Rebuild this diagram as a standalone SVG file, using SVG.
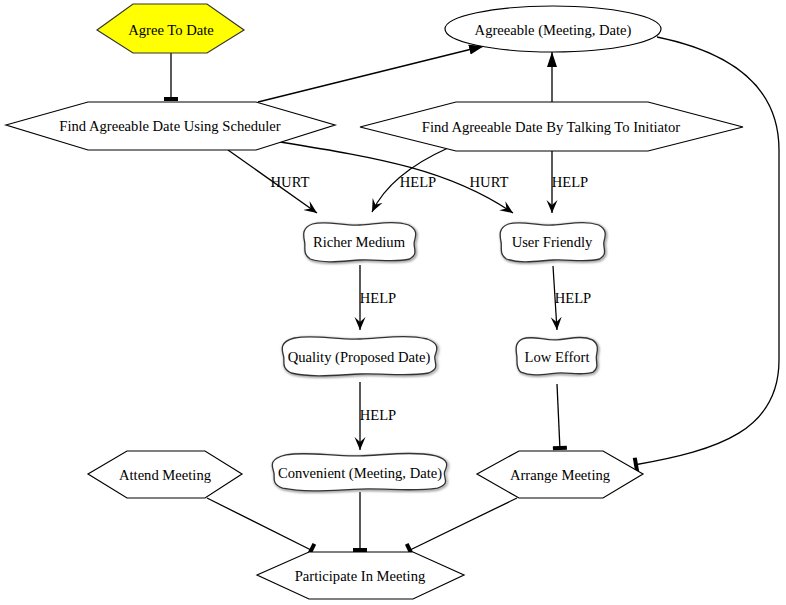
<svg xmlns="http://www.w3.org/2000/svg" width="786" height="605" viewBox="0 0 786 605">
  <style>
    text { font-family: "Liberation Serif", "Times New Roman", serif; font-size: 14.6px; fill: #000; text-anchor: middle; }
    .task { fill: #fff; stroke: #000; stroke-width: 1.2; }
    .goal { fill: #fff; stroke: #000; stroke-width: 1.2; }
    .soft { fill: #fff; stroke: #333; stroke-width: 1.3; }
    .softShadow { fill: none; stroke: #999; stroke-width: 2.5; filter: url(#blur); }
    .edge { fill: none; stroke: #000; stroke-width: 1.3; }
    .contrib { marker-end: url(#vee); }
    .means { marker-end: url(#tri); }
    .decomp { marker-end: url(#tee); }
  </style>
  <defs>
    <filter id="blur" x="-10%" y="-20%" width="120%" height="140%">
      <feGaussianBlur stdDeviation="1"/>
    </filter>
    <!-- unit softgoal cloud, 100 x 40, centred on the origin -->
    <path id="cloud" d="M -42,-18 C -30,-22 -15,-16 0,-17 C 15,-18 30,-22 43,-17 C 52,-12 49,-5 48,0 C 47,6 52,12 44,17 C 30,21 15,17 0,18 C -15,19 -30,22 -44,17 C -51,12 -48,5 -49,0 C -50,-6 -52,-14 -42,-18 Z" vector-effect="non-scaling-stroke"/>
    <marker id="vee" markerWidth="15" markerHeight="14" refX="13" refY="7" orient="auto" markerUnits="userSpaceOnUse">
      <path d="M0,1.5 L13,7 L0,12.5 L5,7 Z" fill="#000"/>
    </marker>
    <marker id="tri" markerWidth="16" markerHeight="12" refX="15" refY="6" orient="auto" markerUnits="userSpaceOnUse">
      <path d="M0,1 L15,6 L0,11 Z" fill="#000"/>
    </marker>
    <marker id="tee" markerWidth="8" markerHeight="16" refX="5" refY="8" orient="auto" markerUnits="userSpaceOnUse">
      <rect x="1" y="1" width="4" height="14" fill="#000"/>
    </marker>
  </defs>

  <g id="connectors">
    <path class="edge decomp" d="M171,53 L171,101"/>
    <path class="edge means" d="M258,102 L484,46"/>
    <path class="edge means" d="M552,102 L552,52"/>
    <path class="edge" d="M657,37 C730,52 779,85 779,150 L779,360 C779,430 720,450 634,465" marker-end="url(#tee)"/>
    <path class="edge contrib" d="M228,150 L317,213"/>
    <path class="edge contrib" d="M280,142 C380,158 450,170 513,213"/>
    <path class="edge contrib" d="M448,148 C410,165 385,185 372,212"/>
    <path class="edge contrib" d="M552,150 L552,213"/>
    <path class="edge contrib" d="M360,265 L360,330"/>
    <path class="edge contrib" d="M553,266 L557,330"/>
    <path class="edge contrib" d="M360,382 L360,450"/>
    <path class="edge decomp" d="M557,384 L560,450"/>
    <path class="edge decomp" d="M207,498 L313,551"/>
    <path class="edge decomp" d="M360,492 L360,552"/>
    <path class="edge decomp" d="M517,498 L408,551"/>
    <text x="290" y="187">HURT</text>
    <text x="418" y="187">HELP</text>
    <text x="489" y="187">HURT</text>
    <text x="570" y="187">HELP</text>
    <text x="378" y="303">HELP</text>
    <text x="573" y="303">HELP</text>
    <text x="378" y="420">HELP</text>
  </g>

  <g id="agree-to-date">
    <polygon points="97,30 133,4 207,4 244,30 207,53 133,53" fill="#ffff00" stroke="#333" stroke-width="1.2"/>
    <text x="171" y="35">Agree To Date</text>
  </g>
  <g id="agreeable">
    <ellipse class="goal" cx="553" cy="29" rx="108" ry="23"/>
    <text x="553" y="35">Agreeable (Meeting, Date)</text>
  </g>
  <g id="find-scheduler">
    <polygon class="task" points="6,125 88,102 256,102 335,125 256,150 88,150"/>
    <text x="170" y="131">Find Agreeable Date Using Scheduler</text>
  </g>
  <g id="find-talking">
    <polygon class="task" points="360,127 456,102 648,102 743,127 648,151 456,151"/>
    <text x="551" y="132">Find Agreeable Date By Talking To Initiator</text>
  </g>

  <g id="richer-medium">
    <use href="#cloud" class="softShadow" transform="translate(361,243) scale(1.13,1)"/>
    <use href="#cloud" class="soft" transform="translate(360,242) scale(1.13,1)"/>
    <text x="359" y="247">Richer Medium</text>
  </g>
  <g id="user-friendly">
    <use href="#cloud" class="softShadow" transform="translate(554,243) scale(1.06,1)"/>
    <use href="#cloud" class="soft" transform="translate(553,242) scale(1.06,1)"/>
    <text x="552" y="247">User Friendly</text>
  </g>
  <g id="quality">
    <use href="#cloud" class="softShadow" transform="translate(361,357) scale(1.56,1)"/>
    <use href="#cloud" class="soft" transform="translate(360,356) scale(1.56,1)"/>
    <text x="359" y="362">Quality (Proposed Date)</text>
  </g>
  <g id="low-effort">
    <use href="#cloud" class="softShadow" transform="translate(558,357) scale(0.82,0.95)"/>
    <use href="#cloud" class="soft" transform="translate(557,356) scale(0.82,0.95)"/>
    <text x="557" y="362">Low Effort</text>
  </g>
  <g id="convenient">
    <use href="#cloud" class="softShadow" transform="translate(361,473) scale(1.76,0.95)"/>
    <use href="#cloud" class="soft" transform="translate(360,472) scale(1.76,0.95)"/>
    <text x="360" y="478">Convenient (Meeting, Date)</text>
  </g>

  <g id="attend-meeting">
    <polygon class="task" points="88,474 127,451 205,451 242,474 205,498 127,498"/>
    <text x="165" y="480">Attend Meeting</text>
  </g>
  <g id="arrange-meeting">
    <polygon class="task" points="477,474 519,451 603,451 643,474 603,498 519,498"/>
    <text x="560" y="480">Arrange Meeting</text>
  </g>
  <g id="participate">
    <polygon class="task" points="257,575 309,552 413,552 464,575 413,599 309,599"/>
    <text x="360" y="581">Participate In Meeting</text>
  </g>
</svg>
